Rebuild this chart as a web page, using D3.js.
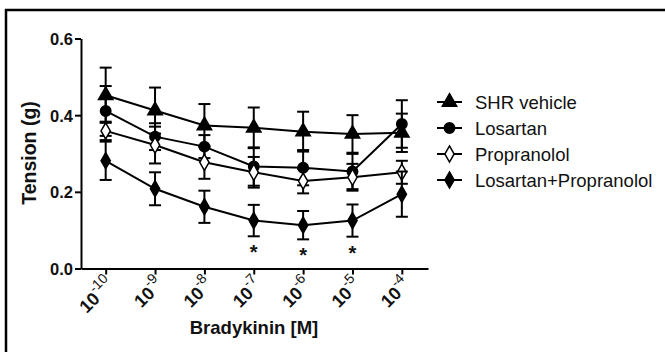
<!DOCTYPE html>
<html>
<head>
<meta charset="utf-8">
<script src="https://cdn.jsdelivr.net/npm/d3@7"></script>
<style>
  body { margin: 0; background: #fff; }
  svg { display: block; }
  text { font-family: "Liberation Sans", Arial, sans-serif; fill: #111; }
</style>
</head>
<body>
<div id="chart"></div>
<script>
// data
var exponents = [-10, -9, -8, -7, -6, -5, -4];
var seriesNames = ["SHR vehicle", "Losartan", "Propranolol", "Losartan+Propranolol"];
var shrMean = [0.452, 0.412, 0.373, 0.367, 0.357, 0.351, 0.354];
var shrErr  = [0.072, 0.060, 0.056, 0.053, 0.052, 0.049, 0.050];
var losMean = [0.411, 0.344, 0.318, 0.266, 0.263, 0.253, 0.377];
var losErr  = [0.065, 0.035, 0.030, 0.050, 0.046, 0.046, 0.062];
var proMean = [0.359, 0.322, 0.277, 0.251, 0.228, 0.238, 0.251];
var proErr  = [0.024, 0.048, 0.043, 0.040, 0.032, 0.035, 0.030];
var lpMean  = [0.281, 0.208, 0.161, 0.125, 0.113, 0.125, 0.194];
var lpErr   = [0.050, 0.043, 0.042, 0.041, 0.037, 0.042, 0.059];
var starAt  = [-7, -6, -5];
var yTicks  = [0, 0.2, 0.4, 0.6];

var W = 665, H = 352;
var svg = d3.select("#chart").append("svg").attr("width", W).attr("height", H);

// frame (top + left only)
svg.append("line").attr("x1", 5).attr("x2", W).attr("y1", 10).attr("y2", 10).attr("stroke", "#000").attr("stroke-width", 2.5);
svg.append("line").attr("x1", 6).attr("x2", 6).attr("y1", 9).attr("y2", H).attr("stroke", "#000").attr("stroke-width", 2.5);

var x = d3.scaleLinear().domain([-10.5, -3.47]).range([81, 428]);
var y = d3.scaleLinear().domain([0, 0.6]).range([268.5, 38.5]);

// y axis
var yAxis = svg.append("g").attr("transform", "translate(81,0)")
  .call(d3.axisLeft(y).tickValues(yTicks).tickFormat(d3.format(".1f")).tickSize(6).tickSizeOuter(0).tickPadding(2));
yAxis.attr("font-size", null).attr("font-family", null);
yAxis.select(".domain").attr("stroke", "#000").attr("stroke-width", 2);
yAxis.selectAll(".tick line").attr("stroke", "#000").attr("stroke-width", 2);
yAxis.selectAll(".tick text").attr("font-size", 16.5).attr("font-weight", "bold").attr("fill", "#111").attr("dy", "0.36em");

// x axis
var xAxis = svg.append("g").attr("transform", "translate(0,268.5)")
  .call(d3.axisBottom(x).tickValues(exponents).tickFormat("").tickSize(6).tickSizeOuter(0));
xAxis.attr("font-size", null).attr("font-family", null);
xAxis.select(".domain").attr("stroke", "#000").attr("stroke-width", 2);
xAxis.selectAll(".tick line").attr("stroke", "#000").attr("stroke-width", 2);
xAxis.selectAll(".tick").append("text")
  .attr("transform", "translate(9,17) rotate(-45)")
  .attr("text-anchor", "end")
  .attr("font-weight", "bold")
  .attr("fill", "#111")
  .each(function(d) {
    var t = d3.select(this);
    t.append("tspan").attr("font-size", 18).text("10");
    t.append("tspan").attr("dy", -9).attr("font-size", 14).attr("font-weight", "normal").text(String(d));
  });

// axis titles
svg.append("text").attr("transform", "translate(36,153) rotate(-90)").attr("text-anchor", "middle")
  .attr("font-size", 19.5).attr("font-weight", "bold").text("Tension (g)");
svg.append("text").attr("x", 254).attr("y", 334).attr("text-anchor", "middle")
  .attr("font-size", 18.5).attr("font-weight", "bold").text("Bradykinin [M]");

var symTri = d3.symbol().type(d3.symbolTriangle).size(90);
var symCir = d3.symbol().type(d3.symbolCircle).size(85);
var symDia = d3.symbol().type(d3.symbolDiamond).size(75);

var series = [
  { name: seriesNames[0], mean: shrMean, err: shrErr, sym: symTri, fill: "#000" },
  { name: seriesNames[1], mean: losMean, err: losErr, sym: symCir, fill: "#000" },
  { name: seriesNames[2], mean: proMean, err: proErr, sym: symDia, fill: "#fff" },
  { name: seriesNames[3], mean: lpMean, err: lpErr, sym: symDia, fill: "#000" }
];

var line = d3.line().x(function(d) { return x(d[0]); }).y(function(d) { return y(d[1]); });

series.forEach(function(s) {
  var pts = exponents.map(function(e, i) { return [e, s.mean[i], s.err[i]]; });
  var g = svg.append("g");
  // error bars
  pts.forEach(function(p) {
    var cx = x(p[0]), top = y(p[1] + p[2]), bot = y(p[1] - p[2]);
    g.append("line").attr("x1", cx).attr("x2", cx).attr("y1", top).attr("y2", bot).attr("stroke", "#000").attr("stroke-width", 2);
    g.append("line").attr("x1", cx - 6).attr("x2", cx + 6).attr("y1", top).attr("y2", top).attr("stroke", "#000").attr("stroke-width", 2);
    g.append("line").attr("x1", cx - 6).attr("x2", cx + 6).attr("y1", bot).attr("y2", bot).attr("stroke", "#000").attr("stroke-width", 2);
  });
  g.append("path").datum(pts).attr("d", line).attr("fill", "none").attr("stroke", "#000").attr("stroke-width", 2);
  g.selectAll("path.pt").data(pts).enter().append("path").attr("class", "pt")
    .attr("transform", function(d) { return "translate(" + x(d[0]) + "," + y(d[1]) + ")"; })
    .attr("d", s.sym).attr("fill", s.fill).attr("stroke", "#000").attr("stroke-width", 1.5);
});

// significance stars under Losartan+Propranolol
starAt.forEach(function(e) {
  var i = exponents.indexOf(e);
  svg.append("text").attr("x", x(e)).attr("y", y(lpMean[i] - lpErr[i]) + 23)
    .attr("text-anchor", "middle").attr("font-size", 20).attr("font-weight", "bold").text("*");
});

// legend
var lg = svg.append("g").attr("transform", "translate(437,102)");
series.forEach(function(s, i) {
  var row = lg.append("g").attr("transform", "translate(0," + (i * 26) + ")");
  row.append("line").attr("x1", 0).attr("x2", 25).attr("stroke", "#000").attr("stroke-width", 2);
  row.append("path").attr("transform", "translate(12.5,0)").attr("d", s.sym).attr("fill", s.fill).attr("stroke", "#000").attr("stroke-width", 1.5);
  row.append("text").attr("x", 38).attr("y", 6.5).attr("font-size", 18.5).text(s.name);
});
</script>
</body>
</html>
